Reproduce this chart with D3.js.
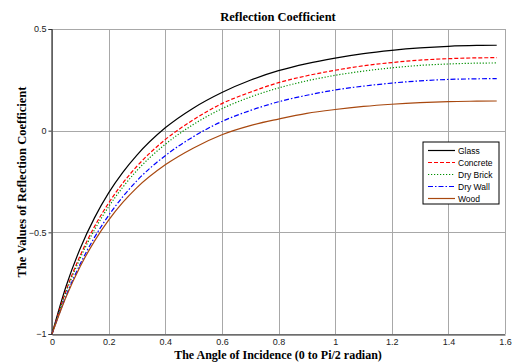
<!DOCTYPE html>
<html>
<head>
<meta charset="utf-8">
<script src="https://cdn.jsdelivr.net/npm/d3@7"></script>
<style>
  html, body { margin: 0; padding: 0; background: #fff; }
  svg { display: block; }
</style>
</head>
<body>
<svg id="chart" width="512" height="362"></svg>
<script>
// ---- data ----
const angles = [0, 0.05, 0.1, 0.15, 0.2, 0.25, 0.3, 0.4, 0.5, 0.6, 0.7, 0.8, 0.9, 1.0, 1.1, 1.2, 1.3, 1.4, 1.5, 1.5708];
const glass    = [-1, -0.764, -0.578, -0.429, -0.306, -0.205, -0.120, 0.014, 0.112, 0.188, 0.248, 0.295, 0.330, 0.357, 0.379, 0.395, 0.407, 0.415, 0.419, 0.420];
const concrete = [-1, -0.785, -0.613, -0.472, -0.356, -0.258, -0.175, -0.044, 0.054, 0.133, 0.189, 0.236, 0.270, 0.297, 0.319, 0.335, 0.347, 0.354, 0.358, 0.359];
const dryBrick = [-1, -0.793, -0.626, -0.488, -0.374, -0.278, -0.196, -0.067, 0.031, 0.108, 0.165, 0.210, 0.245, 0.272, 0.293, 0.309, 0.321, 0.328, 0.332, 0.333];
const dryWall  = [-1, -0.811, -0.655, -0.525, -0.417, -0.325, -0.246, -0.123, -0.029, 0.045, 0.099, 0.142, 0.174, 0.200, 0.219, 0.234, 0.245, 0.252, 0.255, 0.256];
const wood     = [-1, -0.817, -0.667, -0.543, -0.440, -0.353, -0.280, -0.168, -0.085, -0.020, 0.025, 0.057, 0.085, 0.104, 0.119, 0.130, 0.138, 0.143, 0.145, 0.146];

const seriesNames = ["Glass", "Concrete", "Dry Brick", "Dry Wall", "Wood"];
const xTicks = [0, 0.2, 0.4, 0.6, 0.8, 1, 1.2, 1.4, 1.6];
const yTicks = [-1, -0.5, 0, 0.5];
const titleText = "Reflection Coefficient";
const xLabelText = "The Angle of Incidence (0 to Pi/2 radian)";
const yLabelText = "The Values of Reflection Coefficient";

// ---- styles ----
const styles = [
  { color: "#000000", dash: null },
  { color: "#ff0000", dash: "4,2" },
  { color: "#009000", dash: "1.2,1.8" },
  { color: "#0000ff", dash: "5,2,1.5,2" },
  { color: "#a8480f", dash: null }
];
const allValues = [glass, concrete, dryBrick, dryWall, wood];

const svg = d3.select("#chart");
const L = 52, R = 505, T = 29, B = 334;

const x = d3.scaleLinear().domain([0, 1.6]).range([L, R]);
const y = d3.scaleLinear().domain([-1, 0.5]).range([B, T]);

// grid
const gridColor = "#a8a8a8";
svg.append("g").selectAll("line").data(xTicks).join("line")
  .attr("x1", d => Math.round(x(d)) + 0.5).attr("x2", d => Math.round(x(d)) + 0.5)
  .attr("y1", T).attr("y2", B)
  .attr("stroke", gridColor).attr("stroke-width", 1);
svg.append("g").selectAll("line").data(yTicks).join("line")
  .attr("y1", d => Math.round(y(d)) + 0.5).attr("y2", d => Math.round(y(d)) + 0.5)
  .attr("x1", L).attr("x2", R)
  .attr("stroke", gridColor).attr("stroke-width", 1);

// axes
const xAxis = d3.axisBottom(x).tickValues(xTicks).tickSize(0).tickPadding(4)
  .tickFormat(d => d3.format("")(+d.toFixed(1)));
const yAxis = d3.axisLeft(y).tickValues(yTicks).tickSize(3).tickPadding(2)
  .tickFormat(d => d3.format("")(d));

const gx = svg.append("g").attr("transform", `translate(0,${Math.round(B) + 0.5})`).call(xAxis);
const gy = svg.append("g").attr("transform", `translate(${Math.round(L) - 0.5},0)`).call(yAxis);
[gx, gy].forEach(g => {
  g.select(".domain").attr("stroke", "#333").attr("stroke-width", 1.2);
  g.selectAll(".tick line").attr("stroke", "#333");
  g.selectAll("text").attr("font-family", "Liberation Sans, Arial, sans-serif")
    .attr("font-size", 9).attr("fill", "#222");
});

// curves
const line = d3.line()
  .x((d, i) => x(angles[i]))
  .y(d => y(d))
  .curve(d3.curveMonotoneX);

allValues.forEach((vals, k) => {
  svg.append("path")
    .datum(vals)
    .attr("d", line)
    .attr("fill", "none")
    .attr("stroke", styles[k].color)
    .attr("stroke-width", 1.2)
    .attr("stroke-dasharray", styles[k].dash);
});

// titles
svg.append("text").attr("x", 278).attr("y", 21).attr("text-anchor", "middle")
  .attr("font-family", "Liberation Serif, Times New Roman, serif")
  .attr("font-weight", "bold").attr("font-size", 12.5).text(titleText);
svg.append("text").attr("x", 278).attr("y", 359).attr("text-anchor", "middle")
  .attr("font-family", "Liberation Serif, Times New Roman, serif")
  .attr("font-weight", "bold").attr("font-size", 12).text(xLabelText);
svg.append("text").attr("transform", "translate(26,182) rotate(-90)").attr("text-anchor", "middle")
  .attr("font-family", "Liberation Serif, Times New Roman, serif")
  .attr("font-weight", "bold").attr("font-size", 12.5).text(yLabelText);

// legend
const lg = svg.append("g").attr("transform", "translate(423,142)");
lg.append("rect").attr("x", 0).attr("y", 0).attr("width", 76).attr("height", 62)
  .attr("fill", "#fff").attr("stroke", "#000").attr("stroke-width", 1);
seriesNames.forEach((name, k) => {
  const yy = 8.5 + k * 12;
  lg.append("line").attr("x1", 5).attr("x2", 32).attr("y1", yy).attr("y2", yy)
    .attr("stroke", styles[k].color).attr("stroke-width", 1.2)
    .attr("stroke-dasharray", styles[k].dash);
  lg.append("text").attr("x", 35).attr("y", yy + 3)
    .attr("font-family", "Liberation Sans, Arial, sans-serif")
    .attr("font-size", 8.5).attr("fill", "#000").text(name);
});
</script>
</body>
</html>
